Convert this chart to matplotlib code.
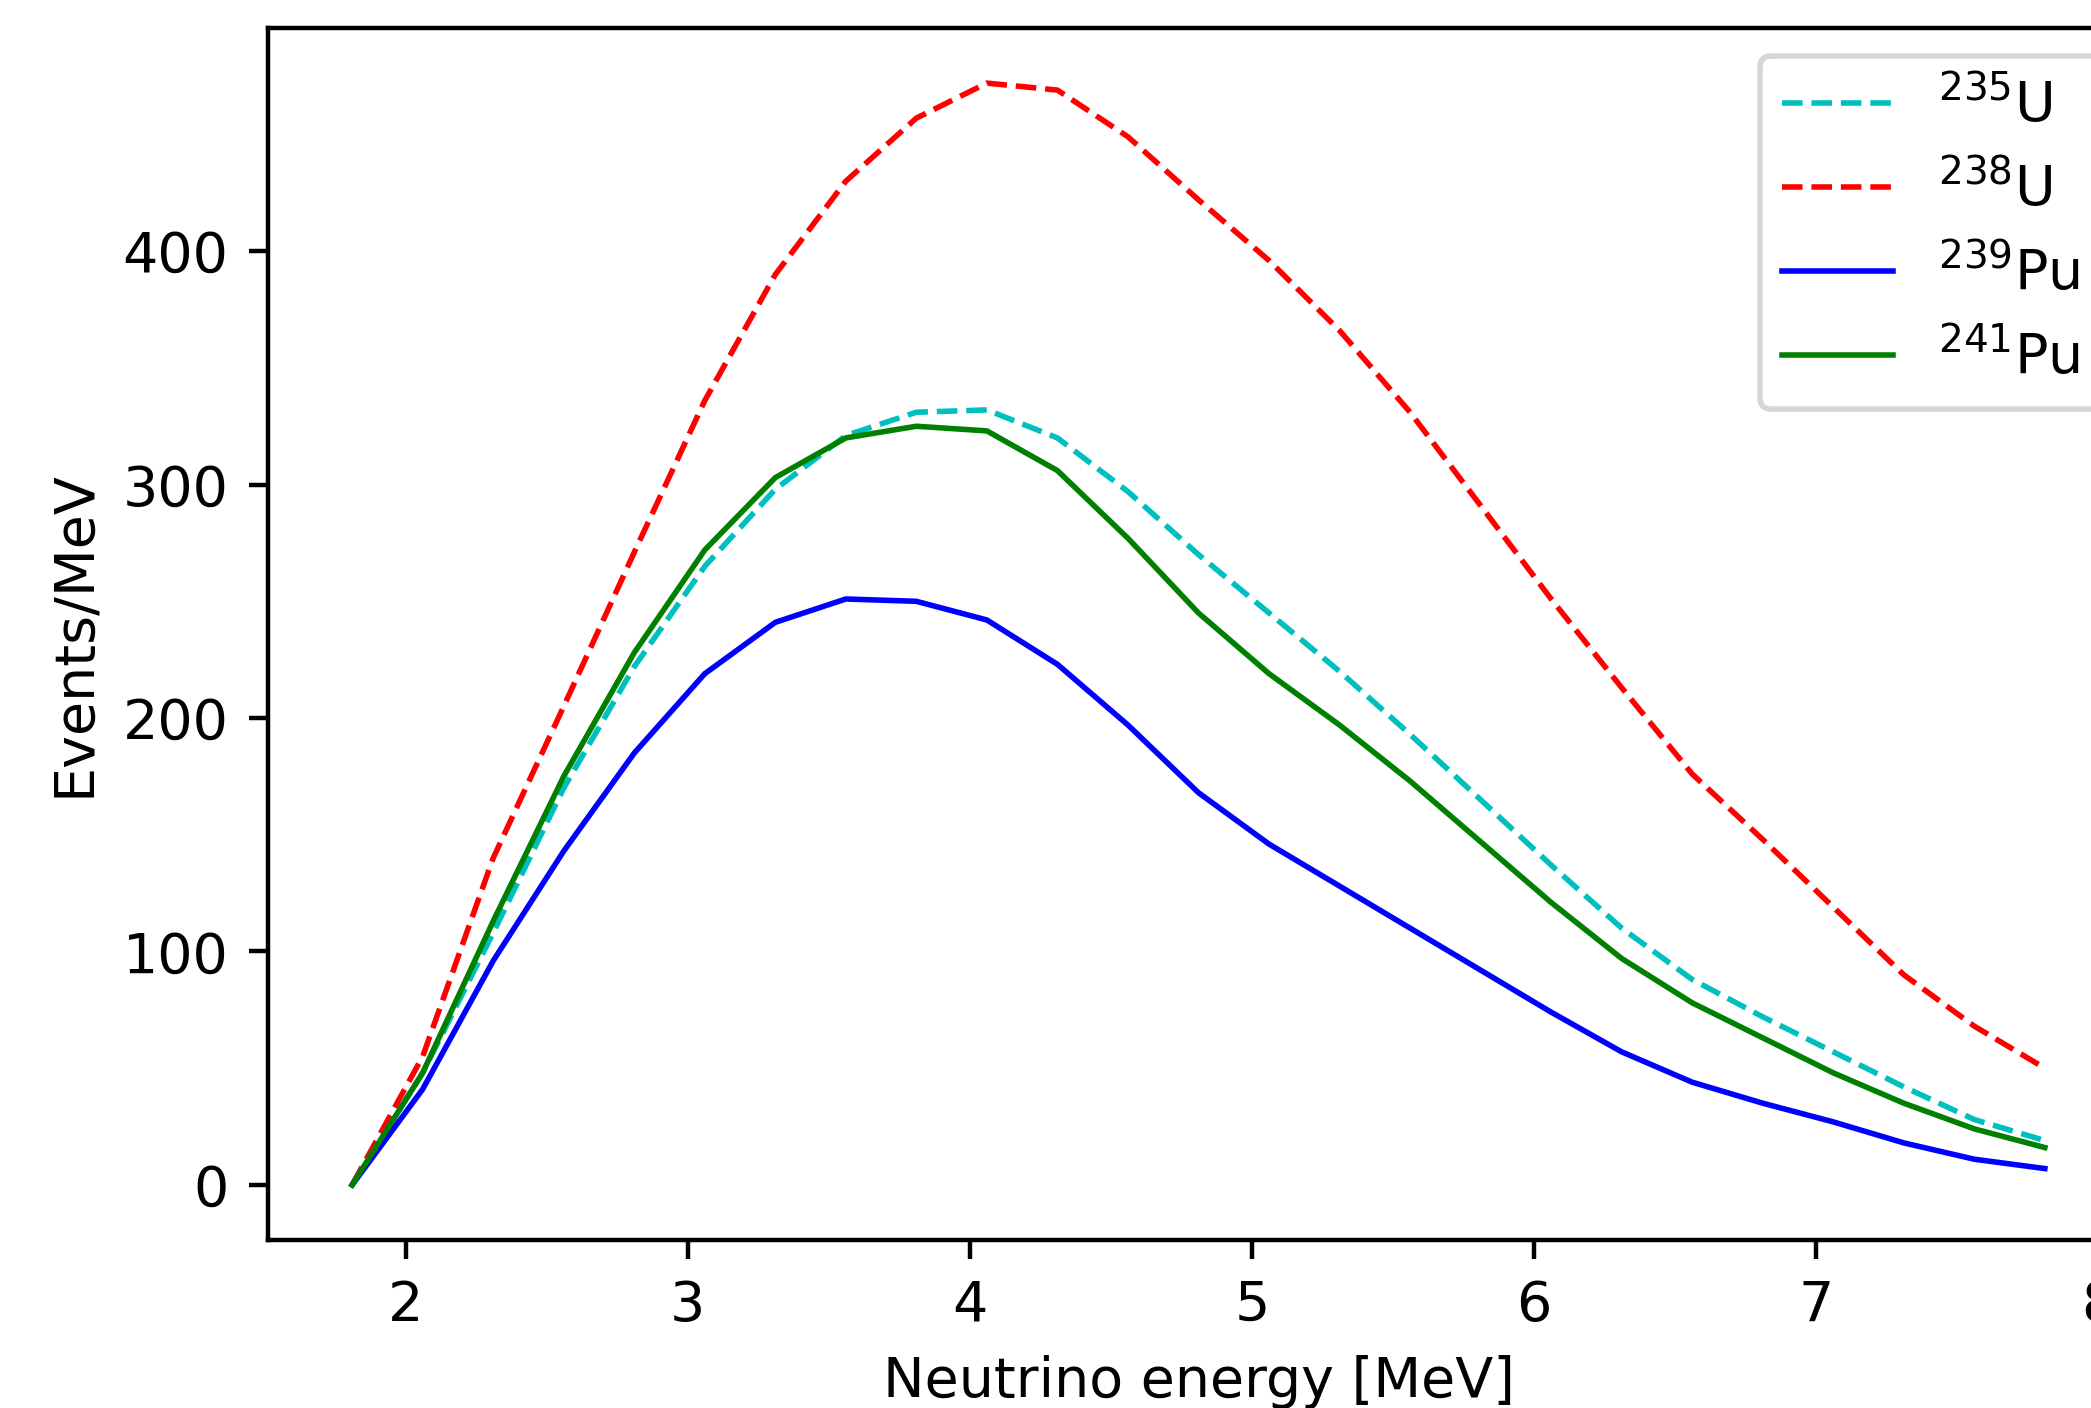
import matplotlib
matplotlib.use("Agg")
import matplotlib.pyplot as plt

energy = [1.81, 2.06, 2.31, 2.56, 2.81, 3.06, 3.31, 3.56, 3.81, 4.06, 4.31, 4.56, 4.81,
          5.06, 5.31, 5.56, 5.81, 6.06, 6.31, 6.56, 6.81, 7.06, 7.31, 7.56, 7.81]

u235 = [0, 48, 108, 170, 222, 265, 298, 321, 331, 332, 320, 297, 270,
        245, 220, 193, 165, 137, 110, 88, 72, 57, 42, 28, 19]
u238 = [0, 55, 140, 205, 271, 336, 390, 430, 457, 472, 469, 449, 422,
        396, 366, 331, 291, 251, 213, 176, 148, 119, 90, 68, 50]
pu239 = [0, 41, 96, 143, 185, 219, 241, 251, 250, 242, 223, 197, 168,
         146, 128, 110, 92, 74, 57, 44, 35, 27, 18, 11, 7]
pu241 = [0, 48, 113, 175, 228, 272, 303, 320, 325, 323, 306, 277, 245,
         219, 197, 173, 147, 121, 97, 78, 63, 48, 35, 24, 16]

labels = ["$^{235}$U", "$^{238}$U", "$^{239}$Pu", "$^{241}$Pu"]

W, H, DPI = 2091, 1408, 400
fig = plt.figure(figsize=(W / DPI, H / DPI), dpi=DPI)
ax = fig.add_axes([267.5 / W, (H - 1240) / H, 1862 / W, (1240 - 28) / H])

lw = 1.0
ax.plot(energy, u235, 'c--', lw=lw, label=labels[0])
ax.plot(energy, u238, 'r--', lw=lw, label=labels[1])
ax.plot(energy, pu239, 'b-', lw=lw, label=labels[2])
ax.plot(energy, pu241, 'g-', lw=lw, label=labels[3])

ax.set_xlabel("Neutrino energy [MeV]")
ax.set_ylabel("Events/MeV")
ax.legend(loc="upper right")

fig.savefig("out.png", dpi=DPI)
